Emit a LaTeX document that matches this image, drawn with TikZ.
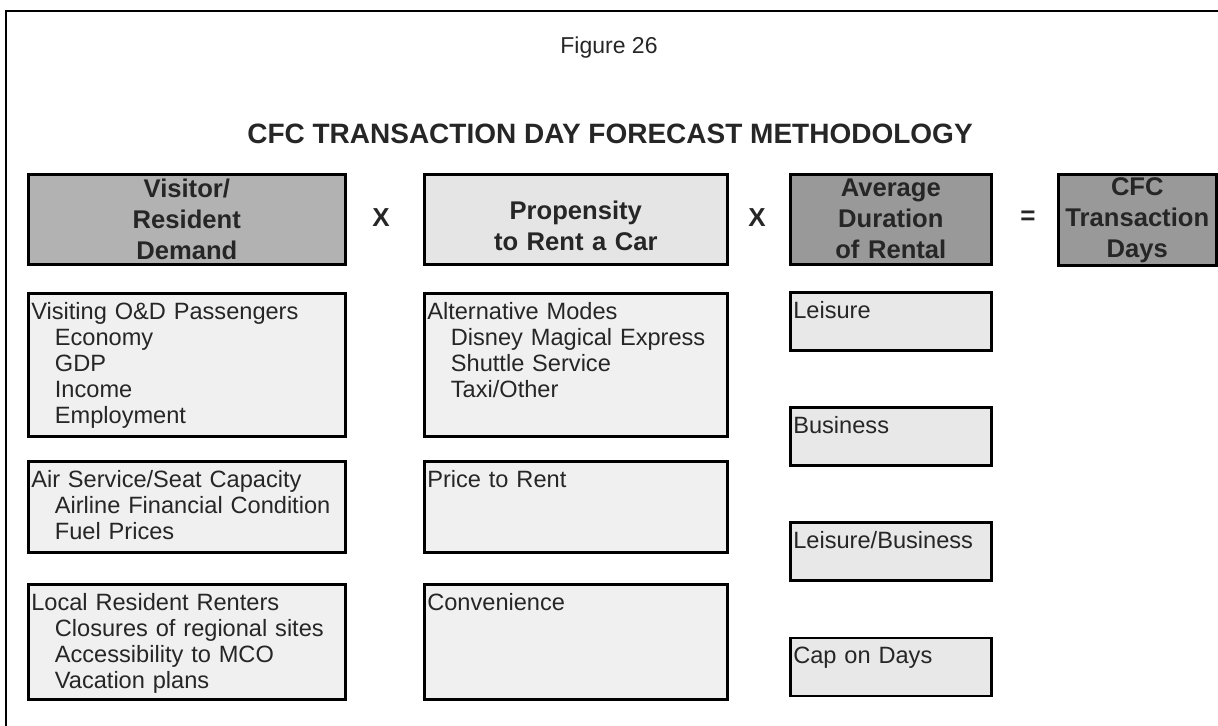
\documentclass[tikz,border=0pt]{standalone}
\usepackage{fontspec}
\setmainfont{Liberation Sans}
\usepackage{xcolor}
\usetikzlibrary{positioning}
\tikzstyle{frame} = [draw=black, line width=1pt]
\tikzstyle{headbox} = [rectangle, anchor=north west, inner sep=0pt, minimum height=45pt, align=center, draw=black, line width=1.3pt, text=black!85, font=\fontsize{12.8}{15.5}\selectfont\bfseries]
\tikzstyle{listbox} = [rectangle, anchor=north west, inner xsep=1.5pt, inner ysep=2pt, text height=11pt, align=left, draw=black, line width=1.3pt, fill=black!6, text=black!85, font=\fontsize{11.8}{13}\selectfont]
\tikzstyle{op} = [text=black!85, font=\fontsize{13}{15}\selectfont\bfseries]

\begin{document}
\begin{tikzpicture}[x=0.5pt, y=-0.5pt]
        \useasboundingbox (0,0) rectangle (1218,726);
        \draw [frame] (6,726) -- (6,11) -- (1218,11);

        % titles
        \node (fig) at (609,48) [text=black!85, font=\fontsize{11.5}{14}\selectfont] {Figure 26};
        \node (title) at (610,134) [text=black!85, font=\fontsize{14}{16}\selectfont\bfseries] {CFC TRANSACTION DAY FORECAST METHODOLOGY};

        % factors
        \node (h1) at (27,173) [headbox, fill=black!30, text width=158.5pt] {Visitor/\\Resident\\Demand};
        \node (h2) at (423,173) [headbox, fill=black!10, text width=151.5pt] {~\\Propensity\\to Rent a Car};
        \node (h3) at (789,173) [headbox, fill=black!40, text width=100.5pt] {Average\\Duration\\of Rental};
        \node (h4) at (1057,173) [headbox, fill=black!40, text width=79pt, minimum height=45.5pt] {CFC\\Transaction\\Days};

        \node (x1) at (381,218) [op] {X};
        \node (x2) at (757,218) [op] {X};
        \node (eq) at (1028,218) [op] {=};

        % demand drivers
        \node (l1) at (27,292) [listbox, text width=155.5pt, text depth=56.5pt] {Visiting O\&D Passengers\\\quad Economy\\\quad GDP\\\quad Income\\\quad Employment};
        \node (l2) at (27,460) [listbox, text width=155.5pt, text depth=30.5pt] {Air Service/Seat Capacity\\\quad Airline Financial Condition\\\quad Fuel Prices};
        \node (l3) at (27,583) [listbox, text width=155.5pt, text depth=42.5pt] {Local Resident Renters\\\quad Closures of regional sites\\\quad Accessibility to MCO\\\quad Vacation plans};

        % propensity drivers
        \node (m1) at (423,292) [listbox, text width=148.5pt, text depth=56.5pt] {Alternative Modes\\\quad Disney Magical Express\\\quad Shuttle Service\\\quad Taxi/Other};
        \node (m2) at (423,460) [listbox, text width=148.5pt, text depth=30.5pt] {Price to Rent};
        \node (m3) at (423,583) [listbox, text width=148.5pt, text depth=42.5pt] {Convenience};

        % duration drivers
        \node (r1) at (789,291) [listbox, fill=black!9, text width=97.5pt, text depth=14pt] {Leisure};
        \node (r2) [listbox, fill=black!9, text width=97.5pt, text depth=14pt, below=27.3pt of r1] {Business};
        \node (r3) [listbox, fill=black!9, text width=97.5pt, text depth=14pt, below=27.3pt of r2] {Leisure/Business};
        \node (r4) [listbox, fill=black!9, text width=97.5pt, text depth=14pt, below=27.3pt of r3] {Cap on Days};
    \end{tikzpicture}
\end{document}
